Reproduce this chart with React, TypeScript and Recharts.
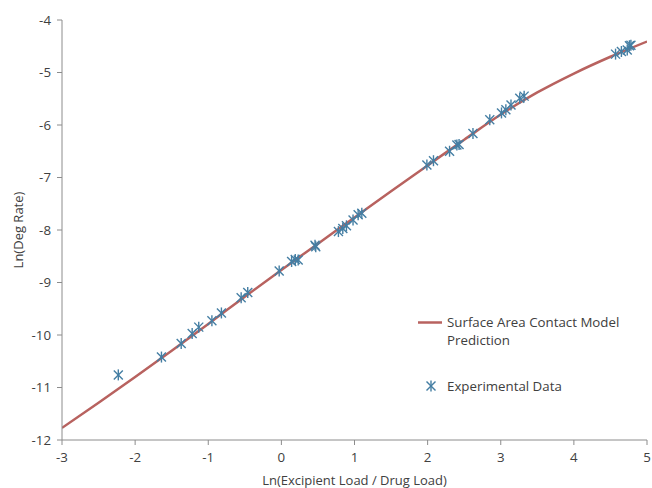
import React from 'react';
import {
  ComposedChart,
  Line,
  Scatter,
  XAxis,
  YAxis,
} from 'recharts';

// Model curve
const modelX = [-3, -2.5, -2, -1.5, -1, -0.5, 0, 0.5, 1, 1.5, 2, 2.5, 3, 3.5, 4, 4.5, 5];
const modelY = [-11.77, -11.29, -10.8, -10.3, -9.79, -9.27, -8.76, -8.26, -7.76, -7.26, -6.77, -6.28, -5.8, -5.38, -5.02, -4.7, -4.41];

// Experimental points
const expX = [
  -2.23, -1.64, -1.37, -1.22, -1.13, -0.95, -0.82, -0.55, -0.46, -0.03,
  0.14, 0.19, 0.23, 0.46, 0.47, 0.78, 0.84, 0.89, 0.98, 1.05, 1.1,
  1.99, 2.08, 2.3, 2.4, 2.43, 2.62, 2.85, 3.01, 3.07, 3.14, 3.26, 3.32,
  4.57, 4.65, 4.73, 4.76, 4.78,
];
const expY = [
  -10.76, -10.42, -10.16, -9.97, -9.85, -9.73, -9.58, -9.29, -9.19, -8.78,
  -8.6, -8.56, -8.57, -8.29, -8.32, -8.03, -7.97, -7.92, -7.81, -7.71, -7.68,
  -6.76, -6.68, -6.5, -6.38, -6.37, -6.16, -5.9, -5.77, -5.71, -5.62, -5.49, -5.45,
  -4.65, -4.6, -4.57, -4.49, -4.48,
];

const xTicks = [-3, -2, -1, 0, 1, 2, 3, 4, 5];
const yTicks = [-12, -11, -10, -9, -8, -7, -6, -5, -4];

const modelData = modelX.map((x, i) => ({ x, y: modelY[i] }));
const expData = expX.map((x, i) => ({ x, y: expY[i] }));

const LINE_COLOR = '#b8625f';
const MARK_COLOR = '#447ea3';
const AXIS_COLOR = '#8c8c8c';
const TEXT_COLOR = '#404040';
const FONT = "'Open Sans', sans-serif";

const Asterisk = (props: any) => {
  const { cx, cy } = props;
  if (cx == null || cy == null) return null;
  const r = 4.5;
  return (
    <g stroke={MARK_COLOR} strokeWidth={1.4}>
      <line x1={cx - r} y1={cy - r} x2={cx + r} y2={cy + r} />
      <line x1={cx - r} y1={cy + r} x2={cx + r} y2={cy - r} />
      <line x1={cx} y1={cy - r - 1} x2={cx} y2={cy + r + 1} />
    </g>
  );
};

// legend drawn on top of the plot, like the original
function ChartLegend() {
  return (
    <div
      style={{
        position: 'absolute',
        left: 416,
        top: 313,
        width: 234,
        fontFamily: FONT,
        fontSize: 13.3,
        color: TEXT_COLOR,
        lineHeight: '18px',
      }}
    >
      <div style={{ display: 'flex', alignItems: 'flex-start' }}>
        <svg width={26} height={18} style={{ flex: 'none' }}>
          <line x1={2} y1={9.5} x2={26} y2={9.5} stroke={LINE_COLOR} strokeWidth={2.5} />
        </svg>
        <span style={{ marginLeft: 5 }}>
          Surface Area Contact Model
          <br />
          Prediction
        </span>
      </div>
      <div style={{ display: 'flex', alignItems: 'center', marginTop: 28 }}>
        <svg width={26} height={18} style={{ flex: 'none' }}>
          <Asterisk cx={15} cy={9} />
        </svg>
        <span style={{ marginLeft: 5 }}>Experimental Data</span>
      </div>
    </div>
  );
}

export default function App() {
  return (
    <div style={{ position: 'fixed', left: 0, top: 0, width: 652, height: 488, background: '#fff' }}>
      <ComposedChart
        width={652}
        height={488}
        margin={{ top: 20, right: 5, bottom: 0, left: 0 }}
        style={{ fontFamily: FONT }}
      >
        <XAxis
          type="number"
          dataKey="x"
          domain={[-3, 5]}
          ticks={xTicks}
          allowDataOverflow
          height={48}
          stroke={AXIS_COLOR}
          tickSize={5}
          tickMargin={8}
          tick={{ fill: TEXT_COLOR, fontSize: 13.3 }}
          label={{
            value: 'Ln(Excipient Load / Drug Load)',
            position: 'insideBottom',
            offset: 3,
            fill: TEXT_COLOR,
            fontSize: 13,
          }}
        />
        <YAxis
          type="number"
          dataKey="y"
          domain={[-12, -4]}
          ticks={yTicks}
          allowDataOverflow
          width={62}
          stroke={AXIS_COLOR}
          tickSize={5}
          tickMargin={6}
          tick={{ fill: TEXT_COLOR, fontSize: 13.3 }}
          label={{
            value: 'Ln(Deg Rate)',
            angle: -90,
            position: 'insideLeft',
            offset: 18,
            fill: TEXT_COLOR,
            fontSize: 13,
            style: { textAnchor: 'middle' },
          }}
        />
        <Line
          data={modelData}
          dataKey="y"
          type="monotone"
          stroke={LINE_COLOR}
          strokeWidth={2.5}
          dot={false}
          activeDot={false}
          isAnimationActive={false}
        />
        <Scatter
          data={expData}
          dataKey="y"
          shape={Asterisk}
          isAnimationActive={false}
        />
      </ComposedChart>
      <ChartLegend />
    </div>
  );
}
